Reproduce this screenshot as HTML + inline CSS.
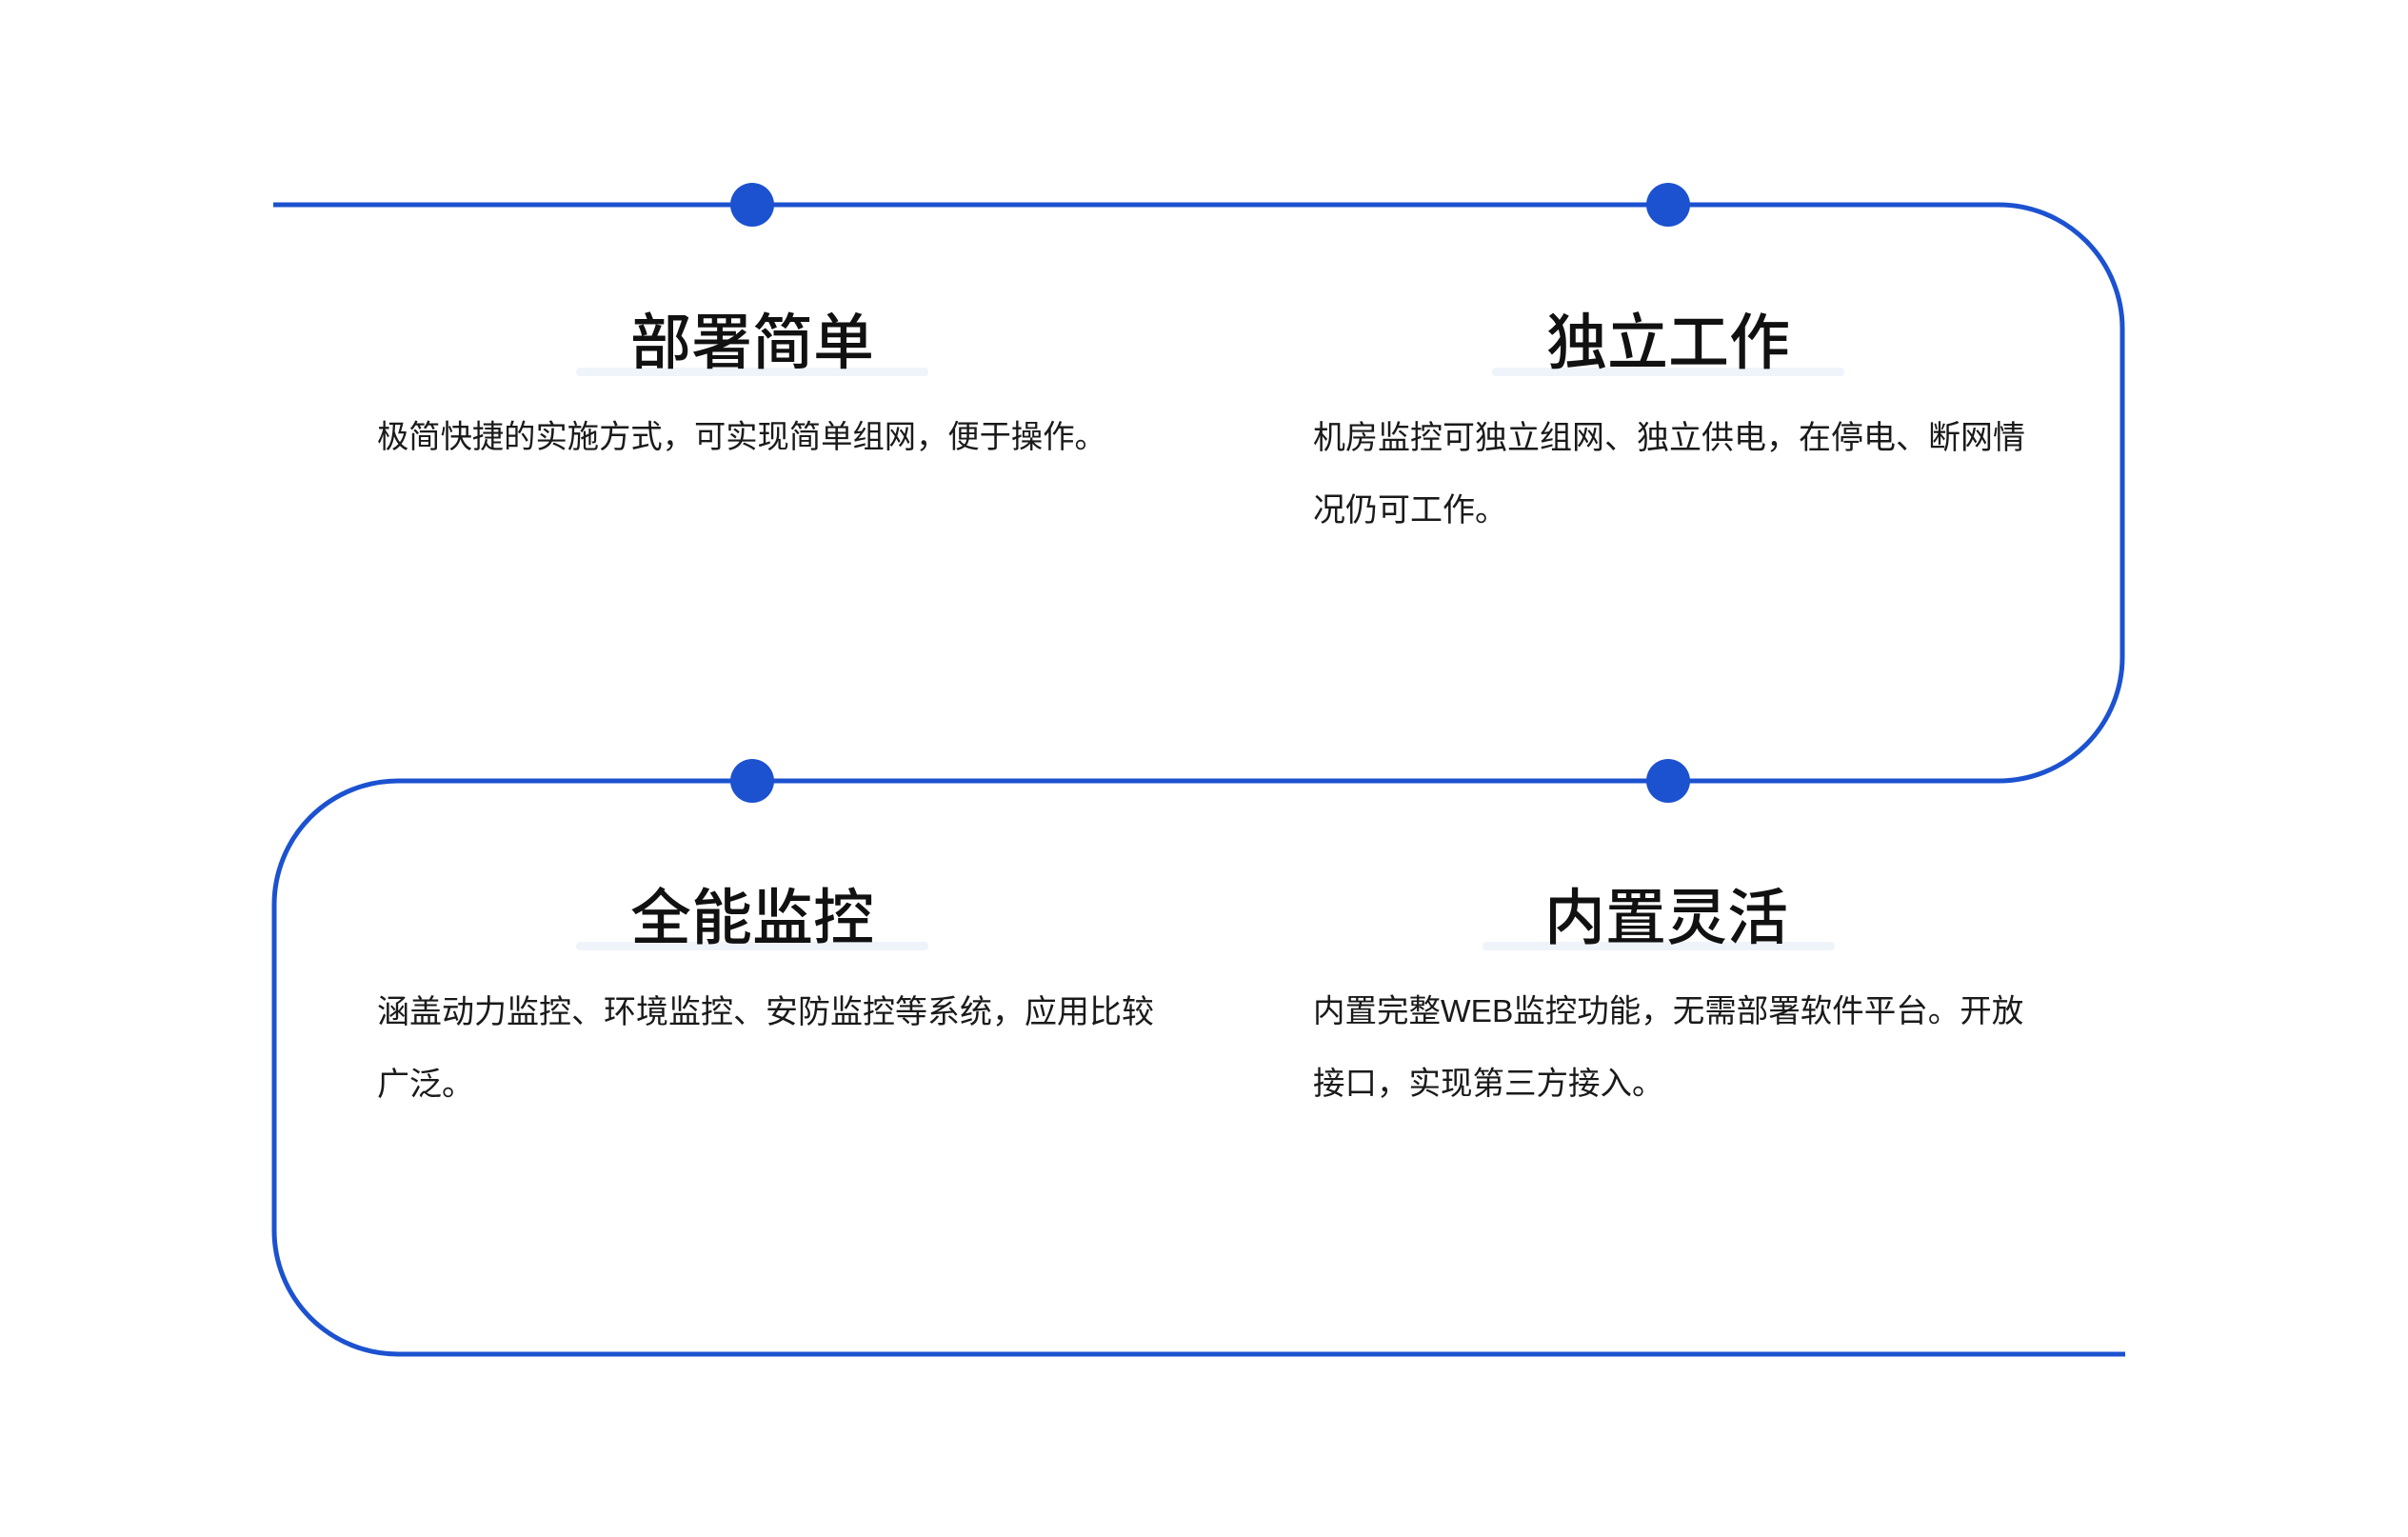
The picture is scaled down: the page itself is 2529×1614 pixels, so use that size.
<!DOCTYPE html>
<html><head><meta charset="utf-8"><style>
html,body{margin:0;padding:0;background:#fff;}
body{width:2529px;height:1614px;position:relative;overflow:hidden;font-family:"Liberation Sans","Noto Sans CJK SC",sans-serif;color:#111;}
.t{position:absolute;width:600px;text-align:center;font-size:64px;font-weight:500;line-height:64px;}
.bar{position:absolute;width:370px;height:9px;background:#eff4fa;border-radius:4px;}
.p{position:absolute;font-size:34px;line-height:76px;white-space:nowrap;color:#1a1a1a;}
</style></head><body>
<svg width="2529" height="1614" style="position:absolute;left:0;top:0">
<path d="M287,215 H2099 A130,130 0 0 1 2229,345 V690 A130,130 0 0 1 2099,820 H418 A130,130 0 0 0 288,950 V1292 A130,130 0 0 0 418,1422 H2232" fill="none" stroke="#1c52d0" stroke-width="5"/>
<circle cx="790" cy="215" r="23" fill="#1c52d0"/>
<circle cx="1752" cy="215" r="23" fill="#1c52d0"/>
<circle cx="790" cy="820" r="23" fill="#1c52d0"/>
<circle cx="1752" cy="820" r="23" fill="#1c52d0"/>
</svg>
<div class="bar" style="left:605px;top:386px"></div>
<div class="bar" style="left:1567px;top:386px"></div>
<div class="bar" style="left:605px;top:989px"></div>
<div class="bar" style="left:1557px;top:989px"></div>
<div class="t" style="left:490px;top:328px">部署简单</div>
<div class="t" style="left:1452px;top:328px">独立工作</div>
<div class="t" style="left:490px;top:932px">全能监控</div>
<div class="t" style="left:1450px;top:932px">内置灵活</div>
<div class="p" style="left:396px;top:422px;font-size:33.3px">极简快捷的实施方式，可实现简单组网，便于操作。</div>
<div class="p" style="left:1379px;top:422px">机房监控可独立组网、独立供电，在停电、断网情<br>况仍可工作。</div>
<div class="p" style="left:396px;top:1025px;font-size:34px">涵盖动力监控、环境监控、安防监控等系统，应用比较<br>广泛。</div>
<div class="p" style="left:1379px;top:1025px;font-size:33.5px">内置完整WEB监控功能，无需部署软件平台。开放<br>接口，实现第三方接入。</div>
</body></html>
